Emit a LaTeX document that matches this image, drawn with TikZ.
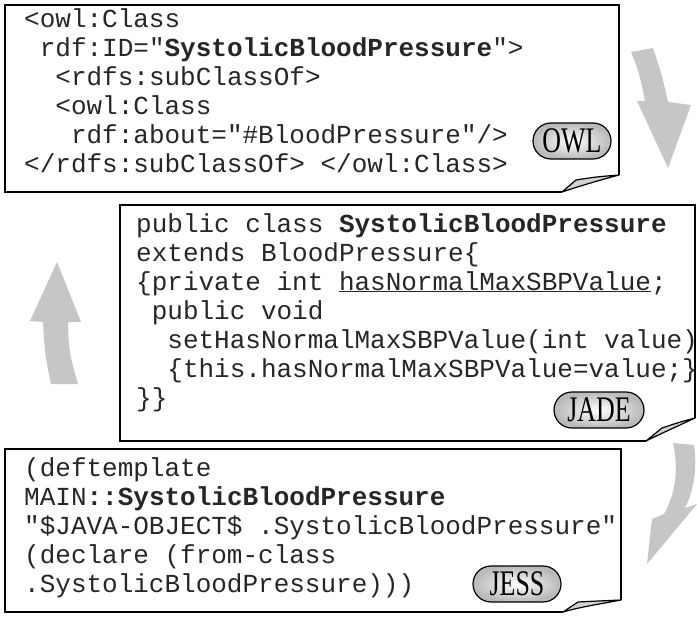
\documentclass[tikz,border=0pt]{standalone}
\usepackage{fontspec}
\setmonofont{Liberation Mono}
\newfontfamily\tagfont[FakeStretch=0.72]{Liberation Serif}
\usetikzlibrary{shapes.misc}

\tikzset{
  frame/.style={line width=1.6pt},
  flap/.style={draw, line width=1.2pt, fill=gray!35, line join=round},
  % anchored at the baseline of the last line
  code/.style={anchor=base west, inner sep=0pt, align=left, text=black!85,
    font=\fontsize{26}{29}\selectfont\ttfamily},
  tag/.style={draw, line width=1.2pt, rounded rectangle, minimum height=36pt,
    inner xsep=1pt, shade, inner color=white, outer color=gray!55,
    font=\fontsize{36}{36}\selectfont\tagfont},
  bigarrow/.style={fill=gray!45}
}

\begin{document}
\begin{tikzpicture}[x=1pt, y=-1pt]
  \useasboundingbox (0,0) rectangle (697,618);

  % grey arrows between the boxes
  \fill[bigarrow] (631,52) .. controls (639,72) .. (645,101) -- (637,101) -- (668,168)
    -- (691,105) -- (668,102) .. controls (662,75) .. (653,48) -- cycle;
  \fill[bigarrow] (51,384) .. controls (45,355) .. (43,322) -- (30,321) -- (57,262)
    -- (81,322) -- (68,322) .. controls (69,352) .. (78,384) -- cycle;
  \fill[bigarrow] (673,443) .. controls (679,470) and (675,495) .. (664,514) -- (652,519)
    -- (647,564) -- (697,504) -- (685,508) .. controls (695,488) and (697,465) .. (694,445) -- cycle;

  % OWL
  \draw[frame] (619,175) -- (619,5) -- (5,5) -- (5,192) -- (562,192);
  \draw[flap] (562,192) -- (576,180) .. controls (595,177) .. (619,175)
    .. controls (600,180) and (580,186) .. (562,192) -- cycle;
  \node[code] (owlcode) at (24,172) {<owl:Class\\
    \ rdf:ID="\textbf{SystolicBloodPressure}">\\
    \ \ <rdfs:subClassOf>\\
    \ \ <owl:Class\\
    \ \ \ rdf:about="\#BloodPressure"/>\\
    </rdfs:subClassOf> </owl:Class>};
  \node[tag, minimum width=80pt] (owl) at (572,141) {OWL};

  % JADE
  \draw[frame] (695,418) -- (695,205) -- (120,205) -- (120,441) -- (646,441);
  \draw[flap] (646,441) -- (662,428) .. controls (680,422) .. (695,418)
    .. controls (678,426) and (660,434) .. (646,441) -- cycle;
  \node[code] (jadecode) at (136,406) {public class \textbf{SystolicBloodPressure}\\
    extends BloodPressure\{\\
    \{private int \underline{hasNormalMaxSBPValue};\\
    \ public void\\
    \ \ setHasNormalMaxSBPValue(int value)\\
    \ \ \{this.hasNormalMaxSBPValue=value;\}\\
    \}\}};
  \node[tag, minimum width=92pt] (jade) at (599,410) {JADE};

  % JESS
  \draw[frame] (621,600) -- (621,449) -- (5,449) -- (5,612) -- (563,612);
  \draw[flap] (563,612) -- (578,602) .. controls (598,601) .. (621,600)
    .. controls (600,604) and (580,607) .. (563,612) -- cycle;
  \node[code] (jesscode) at (24,592) {(deftemplate\\
    MAIN\textbf{::SystolicBloodPressure}\\
    "\$JAVA-OBJECT\$ .SystolicBloodPressure"\\
    (declare (from-class\\
    .SystolicBloodPressure)))};
  \node[tag, minimum width=90pt] (jess) at (517,584) {JESS};
\end{tikzpicture}
\end{document}
